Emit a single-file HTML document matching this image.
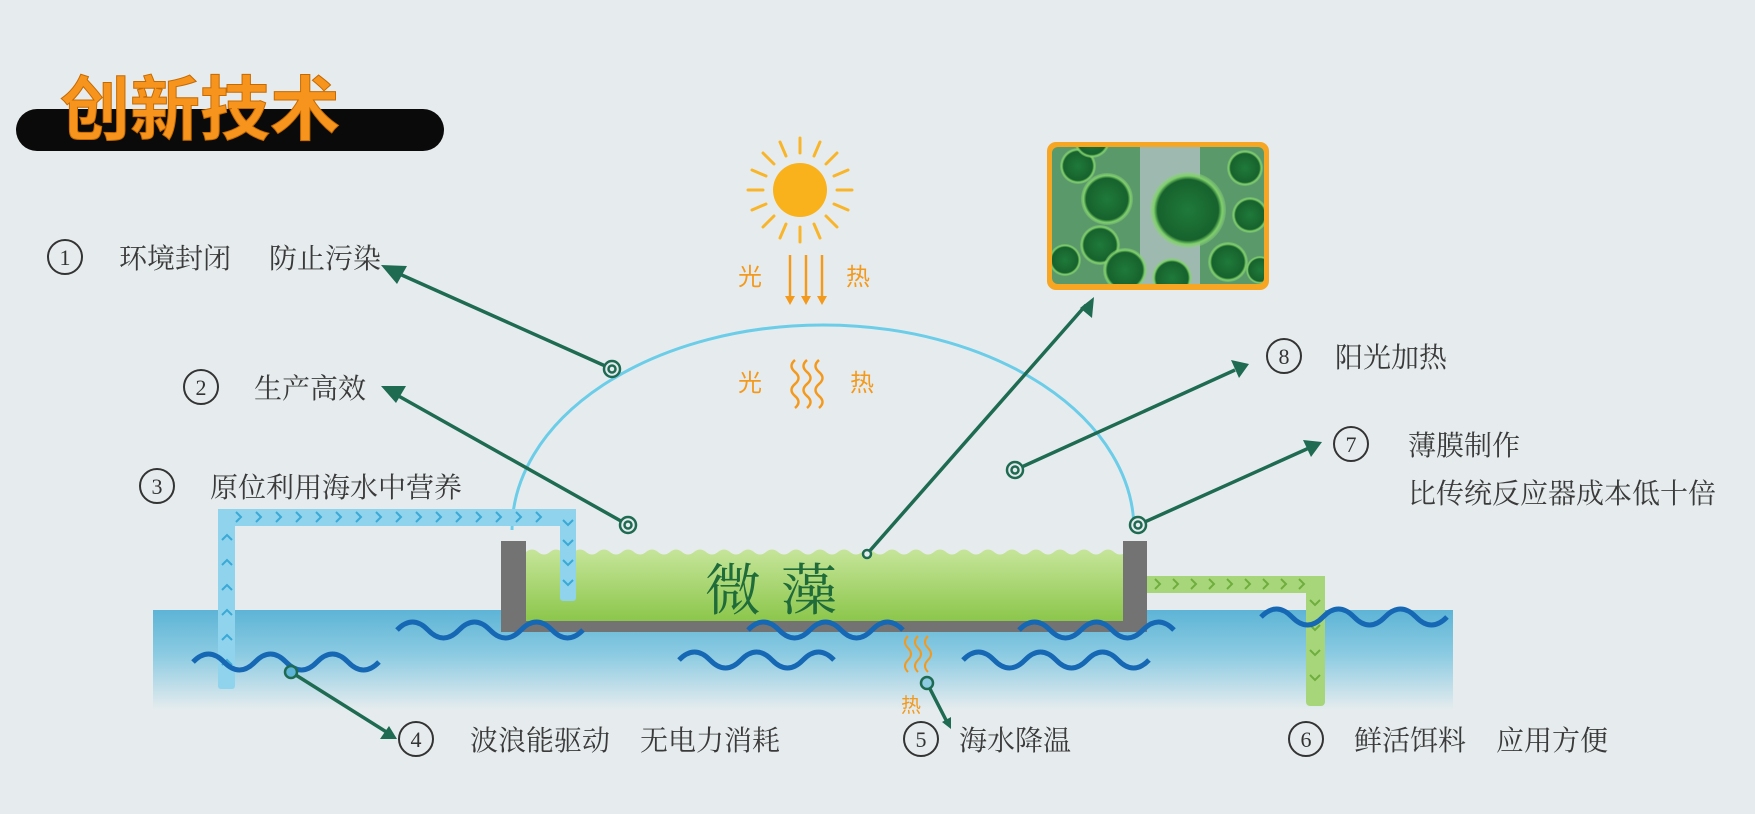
<!DOCTYPE html>
<html><head><meta charset="utf-8">
<style>
html,body{margin:0;padding:0;background:#e6ecee;}
svg{display:block}
text{font-family:"Liberation Serif","Noto Serif CJK SC","Noto Sans CJK SC",serif;}
.lb{font-size:28px;fill:#3a3a3a;font-family:"Liberation Sans","Noto Sans CJK SC",sans-serif;}
.num{font-size:22px;fill:#333;font-family:"Liberation Serif",serif;}
.arr{stroke:#1e6b52;stroke-width:3.5;fill:none}
.wv{stroke:#1668b4;stroke-width:5;fill:none}
.o{fill:#f39a1e;font-size:24px;font-family:"Liberation Sans","Noto Sans CJK SC",sans-serif;}
</style></head><body>
<svg width="1755" height="814" viewBox="0 0 1755 814" xmlns="http://www.w3.org/2000/svg">
<defs>
<linearGradient id="sea" x1="0" y1="0" x2="0" y2="1">
<stop offset="0" stop-color="#5db4d6"/><stop offset="0.45" stop-color="#8ccbe2"/><stop offset="1" stop-color="#e6ecee"/>
</linearGradient>
<linearGradient id="alg" x1="0" y1="0" x2="0" y2="1">
<stop offset="0" stop-color="#c6e59a"/><stop offset="1" stop-color="#8bc64a"/>
</linearGradient>
<radialGradient id="cell" cx="0.5" cy="0.5" r="0.5">
<stop offset="0" stop-color="#1f7a3a"/><stop offset="0.8" stop-color="#17622d"/><stop offset="0.9" stop-color="#7ecf6a"/><stop offset="1" stop-color="#8fd57a" stop-opacity="0.3"/>
</radialGradient>
<clipPath id="mc"><rect x="1052" y="147" width="212" height="137" rx="6"/></clipPath>
<clipPath id="tc"><rect x="526" y="530" width="597" height="95"/></clipPath>
</defs>

<!-- title -->
<rect x="16" y="109" width="428" height="42" rx="21" fill="#0a0a0a"/>
<text x="60" y="134" font-size="70" font-weight="bold" fill="#f7941d" stroke="#c66a00" stroke-width="1" style="font-family:'Noto Sans CJK SC',sans-serif">创新技术</text>

<!-- sun -->
<g stroke="#f9b52a" stroke-width="3" stroke-linecap="round">
<circle cx="800" cy="190" r="27" fill="#f9b21b" stroke="none"/>
<line x1="800" y1="153" x2="800" y2="138"/><line x1="800" y1="227" x2="800" y2="242"/>
<line x1="763" y1="190" x2="748" y2="190"/><line x1="837" y1="190" x2="852" y2="190"/>
<line x1="774" y1="164" x2="763" y2="153"/><line x1="826" y1="164" x2="837" y2="153"/>
<line x1="774" y1="216" x2="763" y2="227"/><line x1="826" y1="216" x2="837" y2="227"/>
<line x1="786" y1="156" x2="780" y2="142"/><line x1="814" y1="156" x2="820" y2="142"/>
<line x1="786" y1="224" x2="780" y2="238"/><line x1="814" y1="224" x2="820" y2="238"/>
<line x1="766" y1="176" x2="752" y2="170"/><line x1="834" y1="176" x2="848" y2="170"/>
<line x1="766" y1="204" x2="752" y2="210"/><line x1="834" y1="204" x2="848" y2="210"/>
</g>
<g stroke="#f39a1e" stroke-width="2.5" fill="#f39a1e">
<line x1="790" y1="255" x2="790" y2="298"/><line x1="806" y1="255" x2="806" y2="298"/><line x1="822" y1="255" x2="822" y2="298"/>
<polygon points="785,296 795,296 790,305" stroke="none"/><polygon points="801,296 811,296 806,305" stroke="none"/><polygon points="817,296 827,296 822,305" stroke="none"/>
</g>
<text x="738" y="285" class="o">光</text><text x="846" y="285" class="o">热</text>
<text x="738" y="391" class="o">光</text><text x="850" y="391" class="o">热</text>
<g stroke="#f39a1e" stroke-width="2.5" fill="none">
<path d="M795 360 q-7 6 0 12 t0 12 t0 12 t0 12"/>
<path d="M807 360 q-7 6 0 12 t0 12 t0 12 t0 12"/>
<path d="M819 360 q-7 6 0 12 t0 12 t0 12 t0 12"/>
</g>

<!-- microscope image -->
<rect x="1047" y="142" width="222" height="148" rx="9" fill="#f6a623"/>
<g clip-path="url(#mc)">
<rect x="1052" y="147" width="212" height="137" fill="#5a9a6a"/>
<rect x="1140" y="147" width="60" height="137" fill="#9db9b0"/>
<circle cx="1107" cy="199" r="26" fill="url(#cell)"/>
<circle cx="1188" cy="210" r="38" fill="url(#cell)"/>
<circle cx="1100" cy="245" r="20" fill="url(#cell)"/>
<circle cx="1125" cy="270" r="22" fill="url(#cell)"/>
<circle cx="1078" cy="166" r="18" fill="url(#cell)"/>
<circle cx="1245" cy="168" r="18" fill="url(#cell)"/>
<circle cx="1250" cy="215" r="18" fill="url(#cell)"/>
<circle cx="1228" cy="262" r="20" fill="url(#cell)"/>
<circle cx="1172" cy="278" r="20" fill="url(#cell)"/>
<circle cx="1065" cy="260" r="16" fill="url(#cell)"/>
<circle cx="1260" cy="270" r="14" fill="url(#cell)"/>
<circle cx="1092" cy="140" r="18" fill="url(#cell)"/>
</g>

<!-- dome -->
<path d="M512 530 A311 205 0 0 1 1134 530" stroke="#6ccde8" stroke-width="3" fill="none"/>

<!-- sea -->
<rect x="153" y="610" width="1300" height="100" fill="url(#sea)"/>

<!-- tank -->
<g clip-path="url(#tc)">
<path d="M526 552 q6 -5 12 0 t12 0 t12 0 t12 0 t12 0 t12 0 t12 0 t12 0 t12 0 t12 0 t12 0 t12 0 t12 0 t12 0 t12 0 t12 0 t12 0 t12 0 t12 0 t12 0 t12 0 t12 0 t12 0 t12 0 t12 0 t12 0 t12 0 t12 0 t12 0 t12 0 t12 0 t12 0 t12 0 t12 0 t12 0 t12 0 t12 0 t12 0 t12 0 t12 0 t12 0 t12 0 t12 0 t12 0 t12 0 t12 0 t12 0 t12 0 t12 0 t12 0 t12 0 L1123 552 L1123 622 L526 622 Z" fill="url(#alg)"/>
</g>
<rect x="501" y="541" width="25" height="90" fill="#737373"/>
<rect x="1123" y="541" width="24" height="90" fill="#737373"/>
<rect x="501" y="621" width="646" height="11" fill="#737373"/>
<text x="705" y="610" font-size="56" fill="#1f6b3a" letter-spacing="20">微藻</text>

<!-- blue pipe -->
<g fill="#8fd3ec">
<rect x="218" y="509" width="358" height="17"/>
<rect x="218" y="509" width="17" height="180" rx="3"/>
<rect x="560" y="509" width="16" height="92" rx="3"/>
</g>
<g stroke="#3aa9d6" stroke-width="2" fill="none">
<path d="M236 512 l5 5 l-5 5 M256 512 l5 5 l-5 5 M276 512 l5 5 l-5 5 M296 512 l5 5 l-5 5 M316 512 l5 5 l-5 5 M336 512 l5 5 l-5 5 M356 512 l5 5 l-5 5 M376 512 l5 5 l-5 5 M396 512 l5 5 l-5 5 M416 512 l5 5 l-5 5 M436 512 l5 5 l-5 5 M456 512 l5 5 l-5 5 M476 512 l5 5 l-5 5 M496 512 l5 5 l-5 5 M516 512 l5 5 l-5 5 M536 512 l5 5 l-5 5"/>
<path d="M563 520 l5 5 l5 -5 M563 540 l5 5 l5 -5 M563 560 l5 5 l5 -5 M563 580 l5 5 l5 -5"/>
<path d="M222 540 l5 -5 l5 5 M222 565 l5 -5 l5 5 M222 590 l5 -5 l5 5 M222 615 l5 -5 l5 5 M222 640 l5 -5 l5 5 M222 665 l5 -5 l5 5"/>
</g>

<!-- green pipe -->
<g fill="#a7d67a">
<rect x="1147" y="576" width="178" height="17"/>
<rect x="1306" y="576" width="19" height="130" rx="4"/>
</g>
<g stroke="#6fae3e" stroke-width="2" fill="none">
<path d="M1155 579 l5 5 l-5 5 M1173 579 l5 5 l-5 5 M1191 579 l5 5 l-5 5 M1209 579 l5 5 l-5 5 M1227 579 l5 5 l-5 5 M1245 579 l5 5 l-5 5 M1263 579 l5 5 l-5 5 M1281 579 l5 5 l-5 5 M1299 579 l5 5 l-5 5"/>
<path d="M1310 600 l5 5 l5 -5 M1310 625 l5 5 l5 -5 M1310 650 l5 5 l5 -5 M1310 675 l5 5 l5 -5"/>
</g>

<!-- waves -->
<g class="wv">
<path d="M397 630 q15.5 -16 31 0 t31 0 t31 0 t31 0 t31 0 t31 0"/>
<path d="M748 630 q15.5 -16 31 0 t31 0 t31 0 t31 0 t31 0"/>
<path d="M1019 630 q15.5 -16 31 0 t31 0 t31 0 t31 0 t31 0"/>
<path d="M1261 617 q15.5 -16 31 0 t31 0 t31 0 t31 0 t31 0 t31 0"/>
<path d="M193 662 q15.5 -16 31 0 t31 0 t31 0 t31 0 t31 0 t31 0"/>
<path d="M679 660 q15.5 -16 31 0 t31 0 t31 0 t31 0 t31 0"/>
<path d="M963 660 q15.5 -16 31 0 t31 0 t31 0 t31 0 t31 0 t31 0"/>
</g>

<!-- heat below tank -->
<g stroke="#f39a1e" stroke-width="2" fill="none">
<path d="M908 636 q-6 6 0 12 t0 12 t0 12"/>
<path d="M918 636 q-6 6 0 12 t0 12 t0 12"/>
<path d="M928 636 q-6 6 0 12 t0 12 t0 12"/>
</g>
<text x="901" y="712" class="o" style="font-size:20px">热</text>

<!-- arrows -->
<g class="arr">
<line x1="612" y1="369" x2="395" y2="272"/>
<line x1="628" y1="525" x2="395" y2="394"/>
<line x1="867" y1="554" x2="1086" y2="305"/>
<line x1="1015" y1="470" x2="1235" y2="370"/>
<line x1="1138" y1="525" x2="1309" y2="448"/>
<line x1="291" y1="672" x2="388" y2="733"/>
<line x1="927" y1="683" x2="947" y2="722"/>
</g>
<g fill="#1e6b52">
<polygon points="381,265 407,266 397,284"/>
<polygon points="381,386 406,386 396,403"/>
<polygon points="1094,297 1092,318 1080,308"/>
<polygon points="1249,364 1231,360 1239,378"/>
<polygon points="1322,442 1303,440 1311,457"/>
<polygon points="397,739 380,739 389,726"/>
<polygon points="951,729 942,722 951,717"/>
</g>
<g fill="#e6ecee" stroke="#1e6b52" stroke-width="2.5">
<circle cx="612" cy="369" r="8"/><circle cx="612" cy="369" r="3.5"/>
<circle cx="628" cy="525" r="8"/><circle cx="628" cy="525" r="3.5"/>
<circle cx="1015" cy="470" r="8"/><circle cx="1015" cy="470" r="3.5"/>
<circle cx="1138" cy="525" r="8"/><circle cx="1138" cy="525" r="3.5"/>
<circle cx="291" cy="672" r="6" fill="#5db4d6"/>
<circle cx="927" cy="683" r="6" fill="#8ccbe2"/>
<circle cx="867" cy="554" r="4"/>
</g>

<!-- labels -->
<g fill="none" stroke="#333" stroke-width="2">
<circle cx="65" cy="257" r="17"/><circle cx="201" cy="387" r="17"/><circle cx="157" cy="486" r="17"/>
<circle cx="416" cy="739" r="17"/><circle cx="921" cy="739" r="17"/><circle cx="1306" cy="739" r="17"/>
<circle cx="1351" cy="444" r="17"/><circle cx="1284" cy="356" r="17"/>
</g>
<g class="num" text-anchor="middle">
<text x="65" y="265">1</text><text x="201" y="395">2</text><text x="157" y="494">3</text>
<text x="416" y="747">4</text><text x="921" y="747">5</text><text x="1306" y="747">6</text>
<text x="1351" y="452">7</text><text x="1284" y="364">8</text>
</g>
<g class="lb">
<text x="119" y="268">环境封闭<tspan dx="38">防止污染</tspan></text>
<text x="254" y="398">生产高效</text>
<text x="210" y="497">原位利用海水中营养</text>
<text x="470" y="750">波浪能驱动<tspan dx="30">无电力消耗</tspan></text>
<text x="959" y="750">海水降温</text>
<text x="1354" y="750">鲜活饵料<tspan dx="30">应用方便</tspan></text>
<text x="1408" y="455">薄膜制作</text>
<text x="1408" y="503">比传统反应器成本低十倍</text>
<text x="1335" y="367">阳光加热</text>
</g>
</svg>
</body></html>
